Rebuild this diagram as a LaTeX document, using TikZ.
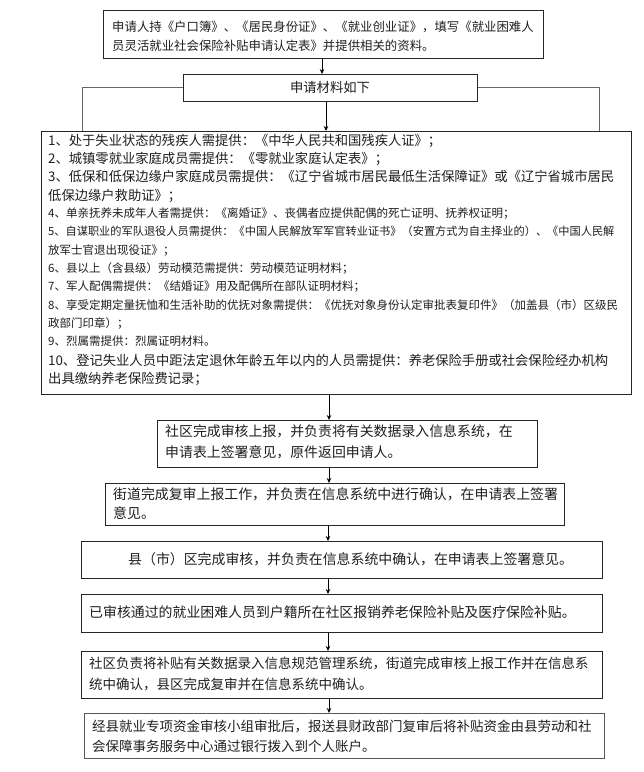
\documentclass[tikz,border=0pt]{standalone}
\usepackage{fontspec}
\newfontfamily\cjk{Noto Sans CJK SC}
\usetikzlibrary{arrows.meta}
\begin{document}
\begin{tikzpicture}[x=1pt,y=-1pt,
  box/.style={draw=black!85,line width=0.8pt,rectangle,inner sep=0pt,anchor=north west},
  arr/.style={draw=black,line width=0.8pt,-{Stealth[length=5pt,width=4.5pt]}},
  side/.style={draw=black!60,line width=0.9pt},
  tx/.style={inner sep=0pt,anchor=base west,text=black!88},
  fa/.style={font=\cjk\fontsize{13.9}{16}\selectfont},
  fc/.style={font=\cjk\fontsize{13.5}{16}\selectfont},
  fb/.style={font=\cjk\fontsize{12.4}{14}\selectfont},
  fl/.style={font=\cjk\fontsize{13.3}{15}\selectfont},
  fs/.style={font=\cjk\fontsize{11.5}{13}\selectfont},
  fss/.style={font=\cjk\fontsize{11.2}{13}\selectfont}]
\useasboundingbox[fill=white] (0,0) rectangle (644,772);
% boxes
\node[box,minimum width=440pt,minimum height=48pt] (b1) at (103,10) {};
\node[box,minimum width=294pt,minimum height=27pt] (b2) at (183,74) {};
\node[box,minimum width=590pt,minimum height=263pt] (b3) at (41,131) {};
\node[box,minimum width=380pt,minimum height=47pt] (b4) at (157,420) {};
\node[box,minimum width=459pt,minimum height=42pt] (b5) at (105,483) {};
\node[box,minimum width=521pt,minimum height=37pt] (b6) at (81,541) {};
\node[box,minimum width=521pt,minimum height=38pt] (b7) at (81,594) {};
\node[box,minimum width=521pt,minimum height=47pt] (b8) at (81,651) {};
\node[box,draw=black!65,line width=1.3pt,minimum width=520pt,minimum height=45pt] (b9) at (84,713) {};
% texts
\node[tx,fb] (t1a) at (112,31.7) {申请人持《户口簿》、《居民身份证》、《就业创业证》，填写《就业困难人};
\node[tx,fb] (t1b) at (112,50.7) {员灵活就业社会保险补贴申请认定表》并提供相关的资料。};
\node[tx,fl,anchor=base] (t2) at (330,92.5) {申请材料如下};
\node[tx,fl] (l1) at (48,145.1) {1、处于失业状态的残疾人需提供：《中华人民共和国残疾人证》；};
\node[tx,fl] (l2) at (48,163.4) {2、城镇零就业家庭成员需提供：《零就业家庭认定表》；};
\node[tx,fl] (l3) at (48,181.7) {3、低保和低保边缘户家庭成员需提供：《辽宁省城市居民最低生活保障证》或《辽宁省城市居民};
\node[tx,fl] (l3b) at (48,200.0) {低保边缘户救助证》；};
\node[tx,fs] (l4) at (48,217.6) {4、单亲抚养未成年人者需提供：《离婚证》、丧偶者应提供配偶的死亡证明、抚养权证明；};
\node[tx,fss] (l5) at (48,235.9) {5、自谋职业的军队退役人员需提供：《中国人民解放军军官转业证书》（安置方式为自主择业的）、《中国人民解};
\node[tx,fs] (l5b) at (48,254.2) {放军士官退出现役证》；};
\node[tx,fs] (l6) at (48,272.5) {6、县以上（含县级）劳动模范需提供：劳动模范证明材料；};
\node[tx,fs] (l7) at (48,290.8) {7、军人配偶需提供：《结婚证》用及配偶所在部队证明材料；};
\node[tx,fs] (l8) at (48,309.1) {8、享受定期定量抚恤和生活补助的优抚对象需提供：《优抚对象身份认定审批表复印件》（加盖县（市）区级民};
\node[tx,fs] (l8b) at (48,327.4) {政部门印章）；};
\node[tx,fs] (l9) at (48,345.7) {9、烈属需提供：烈属证明材料。};
\node[tx,fl] (l10) at (48,365.0) {10、登记失业人员中距法定退休年龄五年以内的人员需提供：养老保险手册或社会保险经办机构};
\node[tx,fl] (l10b) at (48,383.3) {出具缴纳养老保险费记录；};
\node[tx,fa] (t4a) at (165,436.3) {社区完成审核上报，并负责将有关数据录入信息系统，在};
\node[tx,fa] (t4b) at (165,457.3) {申请表上签署意见，原件返回申请人。};
\node[tx,fa] (t5a) at (113,499.3) {街道完成复审上报工作，并负责在信息系统中进行确认，在申请表上签署};
\node[tx,fa] (t5b) at (113,518.3) {意见。};
\node[tx,fa] (t6) at (128,564.3) {县（市）区完成审核，并负责在信息系统中确认，在申请表上签署意见。};
\node[tx,fa] (t7) at (89,617.3) {已审核通过的就业困难人员到户籍所在社区报销养老保险补贴及医疗保险补贴。};
\node[tx,fc] (t8a) at (89,668.3) {社区负责将补贴有关数据录入信息规范管理系统，街道完成审核上报工作并在信息系};
\node[tx,fc] (t8b) at (89,689.3) {统中确认，县区完成复审并在信息系统中确认。};
\node[tx,fc] (t9a) at (92,731.3) {经县就业专项资金审核小组审批后，报送县财政部门复审后将补贴资金由县劳动和社};
\node[tx,fc] (t9b) at (92,751.3) {会保障事务服务中心通过银行拨入到个人账户。};
% connector x positions
\coordinate (x1) at (322,0);
\coordinate (x2) at (326,0);
\coordinate (x3) at (329,0);
\coordinate (x4) at (328,0);
\coordinate (cl) at (82,0);
\coordinate (cr) at (599,0);
% arrows
\draw[arr] (b1.south -| x1) -- (b2.north -| x1);
\draw[arr] (b2.south -| x2) -- (b3.north -| x2);
\draw[arr] (b3.south -| x3) -- (b4.north -| x3);
\draw[arr] (b4.south -| x3) -- (b5.north -| x3);
\draw[arr] (b5.south -| x4) -- (b6.north -| x4);
\draw[arr] (b6.south -| x4) -- (b7.north -| x4);
\draw[arr] (b7.south -| x4) -- (b8.north -| x4);
\draw[arr] (b8.south -| x3) -- (b9.north -| x3);
% side lines
\draw[side] (b2.west) -- (b2.west -| cl) -- (b3.north -| cl);
\draw[side] (b2.east) -- (b2.east -| cr) -- (b3.north -| cr);
\end{tikzpicture}
\end{document}
